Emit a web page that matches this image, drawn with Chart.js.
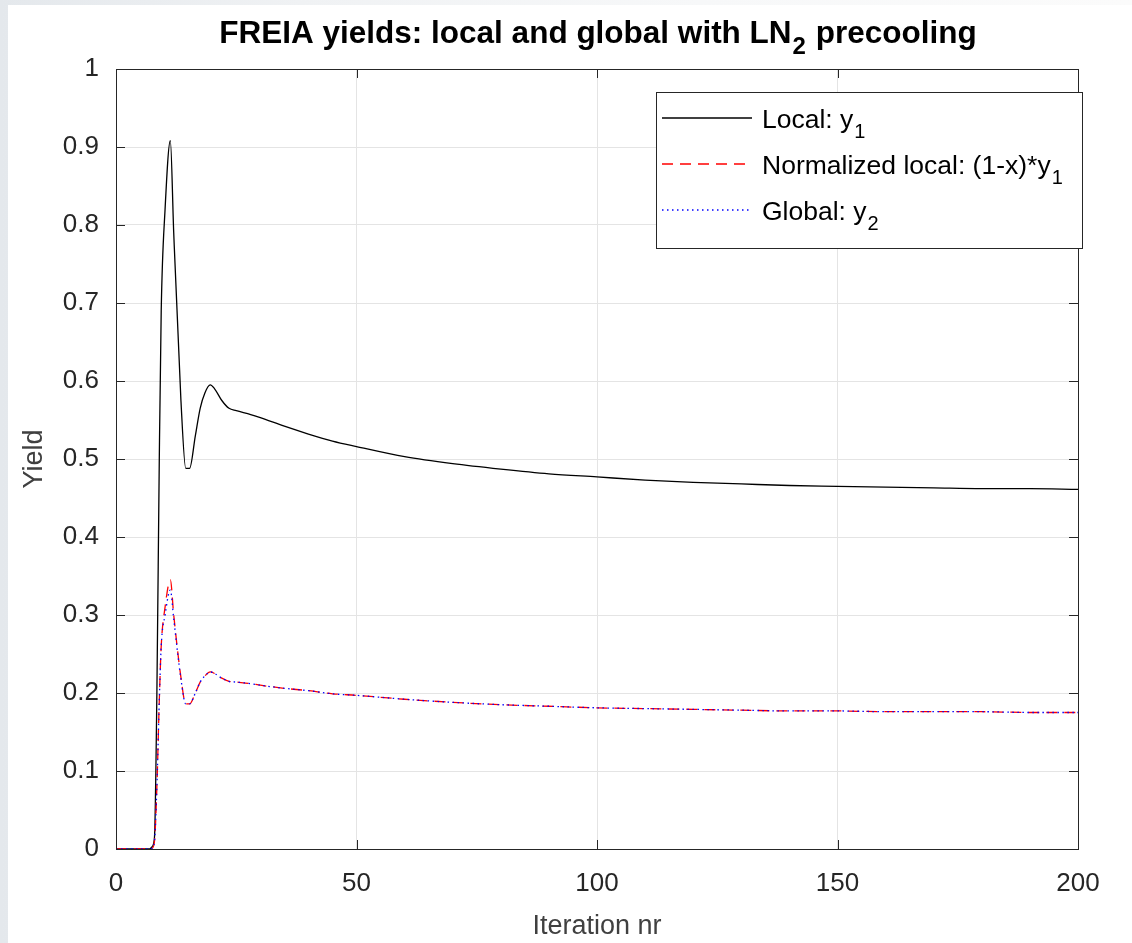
<!DOCTYPE html>
<html>
<head>
<meta charset="utf-8">
<script src="https://cdn.jsdelivr.net/npm/chart.js@4.4.1/dist/chart.umd.min.js"></script>
<style>
  html, body { margin: 0; padding: 0; }
  body {
    width: 1132px; height: 943px; overflow: hidden; position: relative;
    background: linear-gradient(to right, #e4e8ec 0px, #f0f2f4 300px, #f7f8f9 700px, #fbfbfb 1132px);
  }
  #paper { position: absolute; left: 8px; top: 5px; right: 0; bottom: 0; background: #fff; }
  #wrap { position: absolute; left: 0; top: 0; width: 1132px; height: 943px; }
</style>
</head>
<body>
<div id="paper"></div>
<div id="wrap"><canvas id="myChart" width="1132" height="943"></canvas></div>
<script>
  const iterX = [0, 4, 7, 7.5, 8, 8.5, 9, 9.4, 10.2, 11.3, 12, 13.5, 14.5, 15.3, 16.5, 17.5, 18.5, 19.6, 20.5, 22, 23.5, 25, 28, 30, 35, 40, 45, 50, 60, 70, 80, 90, 100, 110, 120, 130, 140, 150, 160, 170, 180, 190, 200];

  // Local: y1
  const localY1 = [0, 0, 0, 0.003, 0.015, 0.2, 0.5, 0.69, 0.82, 0.908, 0.79, 0.575, 0.488, 0.488, 0.53, 0.565, 0.585, 0.595, 0.59, 0.575, 0.565, 0.562, 0.557, 0.553, 0.542, 0.532, 0.523, 0.516, 0.503, 0.494, 0.487, 0.481, 0.477, 0.473, 0.470, 0.468, 0.466, 0.465, 0.464, 0.463, 0.462, 0.462, 0.461];

  // Normalized local: (1-x)*y1
  const normLocal = [0, 0, 0, 0.001, 0.01, 0.08, 0.19, 0.26, 0.31, 0.345, 0.30, 0.22, 0.186, 0.186, 0.2, 0.214, 0.222, 0.227, 0.225, 0.219, 0.215, 0.214, 0.212, 0.21, 0.206, 0.203, 0.199, 0.197, 0.192, 0.188, 0.185, 0.183, 0.181, 0.180, 0.179, 0.178, 0.177, 0.177, 0.176, 0.176, 0.176, 0.175, 0.175];

  // Global: y2
  const globalY2 = [0, 0, 0, 0.001, 0.01, 0.08, 0.19, 0.26, 0.30, 0.332, 0.295, 0.218, 0.186, 0.186, 0.2, 0.214, 0.222, 0.227, 0.225, 0.219, 0.215, 0.214, 0.212, 0.21, 0.206, 0.203, 0.199, 0.197, 0.192, 0.188, 0.185, 0.183, 0.181, 0.180, 0.179, 0.178, 0.177, 0.177, 0.176, 0.176, 0.176, 0.175, 0.175];

  const xTicks = [0, 50, 100, 150, 200];
  const yTicks = [0, 0.1, 0.2, 0.3, 0.4, 0.5, 0.6, 0.7, 0.8, 0.9, 1];

  const titleText = 'FREIA yields: local and global with LN_2 precooling';
  const FONT = '"Liberation Sans", Arial, Helvetica, sans-serif';
  const INK = '#262626';

  function pts(ys) {
    return iterX.map((x, i) => ({ x: x, y: ys[i] }));
  }

  // text with MATLAB style subscripts: "_1" -> lowered smaller "1"
  function richParts(text) {
    const parts = [];
    const re = /_(\w)/g;
    let last = 0, m;
    while ((m = re.exec(text)) !== null) {
      if (m.index > last) parts.push({ t: text.slice(last, m.index), sub: false });
      parts.push({ t: m[1], sub: true });
      last = re.lastIndex;
    }
    if (last < text.length) parts.push({ t: text.slice(last), sub: false });
    return parts;
  }
  function drawRich(ctx, text, x, y, size, weight, align) {
    const parts = richParts(text);
    const subSize = Math.round(size * 0.75);
    let w = 0;
    parts.forEach(p => {
      ctx.font = weight + ' ' + (p.sub ? subSize : size) + 'px ' + FONT;
      p.w = ctx.measureText(p.t).width;
      w += p.w;
    });
    let cx = align === 'center' ? x - w / 2 : x;
    ctx.textAlign = 'left';
    ctx.textBaseline = 'alphabetic';
    parts.forEach(p => {
      ctx.font = weight + ' ' + (p.sub ? subSize : size) + 'px ' + FONT;
      ctx.fillText(p.t, cx + (p.sub ? 1 : 0), p.sub ? y + size * 0.36 : y);
      cx += p.w + (p.sub ? 2 : 0);
    });
  }

  const matlabLook = {
    id: 'matlabLook',
    afterDatasetsDraw(chart) {
      const ctx = chart.ctx;
      const a = chart.chartArea;
      const xs = chart.scales.x, ys = chart.scales.y;
      ctx.save();
      // box and inward ticks
      ctx.strokeStyle = INK;
      ctx.lineWidth = 1;
      ctx.strokeRect(Math.round(a.left) + 0.5, Math.round(a.top) + 0.5, Math.round(a.right - a.left), Math.round(a.bottom - a.top));
      ctx.beginPath();
      xTicks.forEach(v => {
        const px = Math.round(xs.getPixelForValue(v)) + 0.5;
        ctx.moveTo(px, a.bottom); ctx.lineTo(px, a.bottom - 9);
        ctx.moveTo(px, a.top); ctx.lineTo(px, a.top + 9);
      });
      yTicks.forEach(v => {
        const py = Math.round(ys.getPixelForValue(v)) + 0.5;
        ctx.moveTo(a.left, py); ctx.lineTo(a.left + 9, py);
        ctx.moveTo(a.right, py); ctx.lineTo(a.right - 9, py);
      });
      ctx.stroke();

      // title
      ctx.fillStyle = '#000';
      drawRich(ctx, titleText, (a.left + a.right) / 2, 43, 31.5, 'bold', 'center');

      // legend box (top right, inside the axes)
      const bx = 656.5, by = 92.5, bw = 426, bh = 156;
      ctx.fillStyle = '#fff';
      ctx.fillRect(bx, by, bw, bh);
      ctx.strokeStyle = INK;
      ctx.setLineDash([]);
      ctx.strokeRect(bx, by, bw, bh);
      chart.data.datasets.forEach((ds, i) => {
        const ly = 118 + i * 46;
        ctx.strokeStyle = ds.borderColor;
        ctx.lineWidth = ds.borderWidth;
        ctx.setLineDash(ds.borderDash || []);
        ctx.beginPath();
        ctx.moveTo(662, ly); ctx.lineTo(752, ly);
        ctx.stroke();
        ctx.setLineDash([]);
        ctx.fillStyle = '#000';
        drawRich(ctx, ds.label, 762, ly + 10, 26.5, 'normal', 'left');
      });
      ctx.restore();
    }
  };

  new Chart(document.getElementById('myChart'), {
    type: 'line',
    data: {
      datasets: [
        {
          label: 'Local: y_1',
          data: pts(localY1),
          borderColor: '#000000',
          borderWidth: 1.3,
          order: 2
        },
        {
          label: 'Normalized local: (1-x)*y_1',
          data: pts(normLocal),
          borderColor: '#ff0000',
          borderWidth: 1.3,
          borderDash: [11, 7],
          order: 1
        },
        {
          label: 'Global: y_2',
          data: pts(globalY2),
          borderColor: '#0000ff',
          borderWidth: 1.3,
          borderDash: [1.5, 3.5],
          order: 0
        }
      ]
    },
    options: {
      responsive: false,
      animation: false,
      cubicInterpolationMode: 'monotone',
      pointRadius: 0,
      layout: { padding: { top: 69, right: 54, left: 0, bottom: 0 } },
      plugins: {
        legend: { display: false },
        title: { display: false },
        tooltip: { enabled: false }
      },
      scales: {
        x: {
          type: 'linear',
          min: 0, max: 200,
          afterBuildTicks: s => { s.ticks = xTicks.map(v => ({ value: v })); },
          afterFit: s => { s.height = 94; },
          ticks: { color: INK, font: { family: FONT, size: 26 }, padding: 19, maxRotation: 0 },
          grid: { color: '#e4e4e4', drawTicks: false },
          border: { display: false },
          title: { display: true, text: 'Iteration nr', color: '#404040', font: { family: FONT, size: 27 }, padding: { top: 10, bottom: 0 } }
        },
        y: {
          min: 0, max: 1,
          afterBuildTicks: s => { s.ticks = yTicks.map(v => ({ value: v })); },
          afterFit: s => { s.width = 116; },
          ticks: { color: INK, font: { family: FONT, size: 26 }, padding: 17, callback: v => String(Math.round(v * 10) / 10) },
          grid: { color: '#e4e4e4', drawTicks: false },
          border: { display: false },
          title: { display: true, text: 'Yield', color: '#404040', font: { family: FONT, size: 27 }, padding: { top: 18, bottom: 6 } }
        }
      }
    },
    plugins: [matlabLook]
  });
</script>
</body>
</html>
